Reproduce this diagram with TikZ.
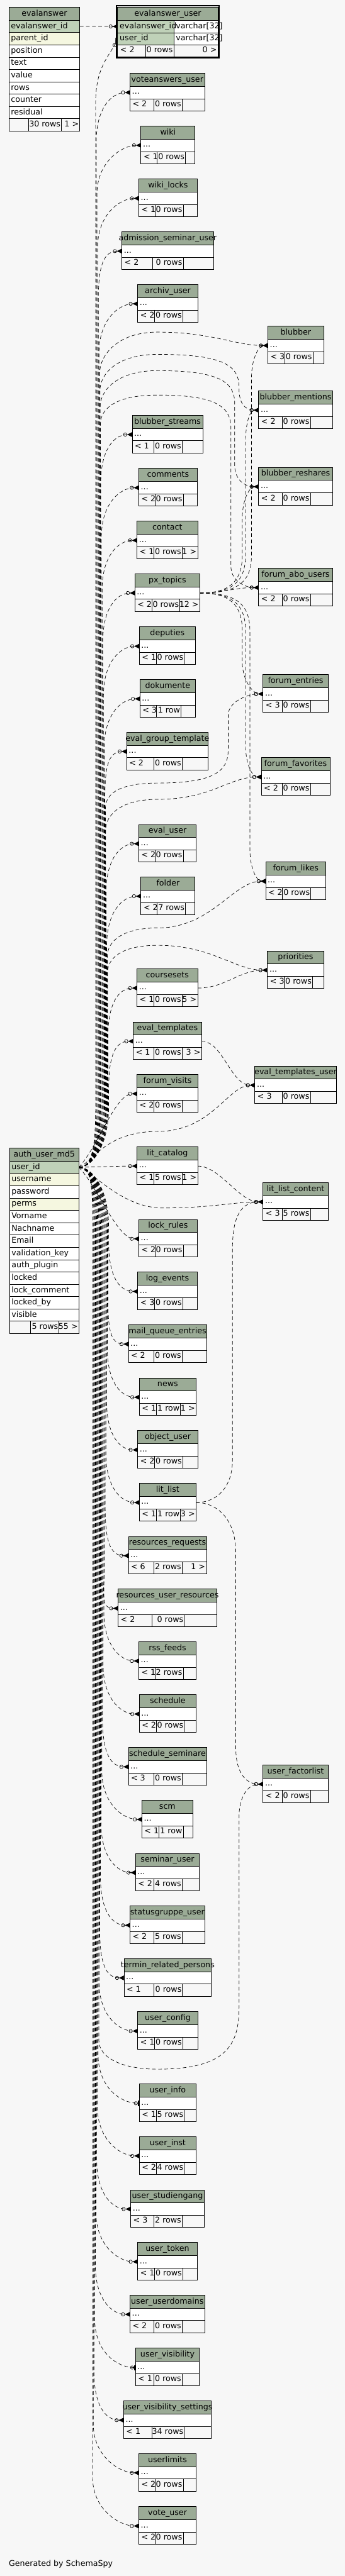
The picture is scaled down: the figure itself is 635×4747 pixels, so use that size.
\documentclass[tikz,border=0pt]{standalone}
\usepackage{fontspec}
\setmainfont{DejaVu Sans}
\usetikzlibrary{arrows.meta}
\definecolor{bgc}{HTML}{F7F7F7}
\definecolor{hdrc}{HTML}{9BAB96}
\definecolor{pkc}{HTML}{BFD1B8}
\definecolor{idxc}{HTML}{F5F7E0}
\newcommand\tf{\fontsize{11}{13}\selectfont}
\newlength\hw
\pgfdeclarelayer{bgl}\pgfdeclarelayer{edges}\pgfsetlayers{bgl,edges,main}
\tikzset{
 txt/.style={font=\tf, inner sep=0pt, text=black},
 tline/.style={draw=black, line width=0.75pt},
 rel/.style={draw=black, line width=0.6pt, dash pattern=on 5pt off 3.5pt,
   -{Circle[open,length=5.25pt,width=5.25pt,line width=0.6pt] Triangle[reversed,length=7pt,width=6.5pt]}},
 relone/.style={draw=black, line width=0.6pt, dash pattern=on 5pt off 3.5pt,
   -{Circle[open,length=5.25pt,width=5.25pt,line width=0.6pt] Rectangle[length=2pt,width=7pt]}},
}
% small table: name, x1, x2, ytop, title, d1, d2, footer1, footer2
\newcommand\stbl[9]{%
 \fill[hdrc] (#2,#4) rectangle (#3,{#4+24});
 \fill[white] (#2,{#4+24}) rectangle (#3,{#4+47});
 \draw[tline] (#2,#4) rectangle (#3,{#4+69.3});
 \draw[tline] (#2,{#4+24}) -- (#3,{#4+24}) (#2,{#4+47}) -- (#3,{#4+47})
   (#6,{#4+47}) -- (#6,{#4+69.3}) (#7,{#4+47}) -- (#7,{#4+69.3});
 \settowidth\hw{\tf #5}%
 \node[txt,anchor=base,xshift={0.055*\the\hw}] (#1) at ({(#2+#3)/2},{#4+16}) {#5};
 \node[txt,anchor=base west] (#1-row) at ({#2+3.5},{#4+38.8}) {...};
 \node[txt,anchor=base west] (#1-fa) at ({#2+4.5},{#4+61.2}) {#8};
 \node[txt,anchor=base east] (#1-fb) at ({#7-1.5},{#4+61.2}) {#9};
 \coordinate (#1-in) at (#2,{#4+35.5});
 \coordinate (#1-out) at (#3,{#4+35.5});
 \coordinate (#1-f3) at ({#3-2},{#4+61.2});
}
% edge from auth_user_md5 to a centre table: [style] name, x1, ytop
\newcommand\uedge[4][rel]{%
 \pgfmathsetmacro\edy{#4+35.5-2151}%
 \pgfmathtruncatemacro\isnear{abs(\edy)<210}%
 \pgfmathsetmacro\ety{#4+35.5}%
 \ifnum\isnear=1
  \draw[#1] (auth-out) .. controls (182,{2151+0.3*(\edy)}) and ({#3-40},\ety) .. (#2-in);
 \else
  \pgfmathsetmacro\sg{(\edy>0) ? 1 : -1}%
  \pgfmathsetmacro\elane{203-0.013*abs(\edy)}%
  \draw[#1] (auth-out) .. controls (170,2151) and (\elane,{2151+(\sg)*40}) .. (\elane,{2151+(\sg)*110})
    -- (\elane,{\ety-(\sg)*90}) .. controls (\elane,{\ety-(\sg)*30}) and ({#3-35},\ety) .. (#2-in);
 \fi}
% edge from auth_user_md5 to a right table: name, x1, ty, launch y, peak y, lane (0 = none)
\newcommand\redge[6]{%
 \pgfmathsetmacro\sg{(#4>2151) ? 1 : -1}%
 \pgfmathsetmacro\elane{203-0.013*abs(#4-2151)}%
 \pgfmathsetmacro\tgn{(#3>#5) ? 1 : -1}%
 \ifdim #6pt=0pt
  \draw[rel] (auth-out) .. controls (170,2151) and (\elane,{2151+(\sg)*40}) .. (\elane,{2151+(\sg)*110})
   -- (\elane,{#4-(\sg)*30}) .. controls (\elane,#4) and ({\elane+30},#5) .. (290,#5)
   .. controls (390,#5) and ({#2-60},#3) .. (#1-in);
 \else
  \draw[rel] (auth-out) .. controls (170,2151) and (\elane,{2151+(\sg)*40}) .. (\elane,{2151+(\sg)*110})
   -- (\elane,{#4-(\sg)*30}) .. controls (\elane,#4) and ({\elane+30},#5) .. (290,#5)
   .. controls ({#6-30},#5) and (#6,{#5+(\tgn)*20}) .. (#6,{#5+(\tgn)*60})
   -- (#6,{#3-(\tgn)*40}) .. controls (#6,{#3-(\tgn)*12}) and ({#2-25},#3) .. (#1-in);
 \fi}
% edge from px_topics: name, x1, ty, lane
\newcommand\pxedge[4]{%
 \pgfmathsetmacro\sg{(#3>1092.8) ? 1 : -1}%
 \draw[rel] (pxtopics-out) .. controls ({#4-25},1092.8) and (#4,{1092.8+(\sg)*20}) .. (#4,{1092.8+(\sg)*70})
   -- (#4,{#3-(\sg)*60}) .. controls (#4,{#3-(\sg)*20}) and ({#2-15},#3) .. (#1-in);}

\begin{document}
\begin{tikzpicture}[x=0.75pt,y=-0.75pt]
\useasboundingbox (0,0) rectangle (635,4747);
\begin{pgfonlayer}{bgl}
\fill[bgc] (0,0) rectangle (635,4747);
\end{pgfonlayer}

% ---------- evalanswer ----------
\fill[hdrc] (16.2,13.3) rectangle (147,37.3);
\settowidth\hw{\tf evalanswer}
\node[txt,anchor=base,xshift={0.055*\the\hw}] (eatitle) at (81.6,29.3) {evalanswer};
\foreach \tx/\cl [count=\i] in {evalanswer\_id/pkc, parent\_id/idxc, position/white, text/white, value/white, rows/white, counter/white, residual/white}{
  \pgfmathsetmacro\yy{37.3+(\i-1)*22.7}
  \fill[\cl] (16.2,\yy) rectangle (147,{\yy+22.7});
  \draw[tline] (16.2,\yy) -- (147,\yy);
  \node[txt,anchor=base west] (ea-r\i) at (19.9,{\yy+15}) {\tx};
}
\draw[tline] (16.2,13.3) rectangle (147,241.6);
\draw[tline] (16.2,218.9) -- (147,218.9) (52.6,218.9) -- (52.6,241.6) (112.6,218.9) -- (112.6,241.6);
\node[txt,anchor=base east] (ea-fb) at (111.6,233.2) {30 rows};
\node[txt,anchor=base east] (ea-fc) at (145.3,233.2) {1 >};
\coordinate (ea-out) at (147,48.7);

% ---------- evalanswer_user ----------
\draw[black,line width=1.5pt] (214.5,10.8) rectangle (402.9,106.6);
\fill[hdrc] (216.6,12.7) rectangle (401.2,37.3);
\fill[pkc] (216.6,37.3) rectangle (319.8,83);
\fill[white] (319.8,37.3) rectangle (401.2,83);
\draw[tline] (216.6,12.7) rectangle (401.2,105.3);
\draw[tline] (216.6,37.3) -- (401.2,37.3) (216.6,60.3) -- (401.2,60.3) (216.6,83) -- (401.2,83)
  (319.8,37.3) -- (319.8,105.3) (268,83) -- (268,105.3);
\settowidth\hw{\tf evalanswer\_user}
\node[txt,anchor=base,xshift={0.055*\the\hw}] (eau) at (308.9,29) {evalanswer\_user};
\node[txt,anchor=base west] (eau-r1) at (220.1,52.3) {evalanswer\_id};
\node[txt,anchor=base west] (eau-t1) at (323.6,52.3) {varchar[32]};
\node[txt,anchor=base west] (eau-r2) at (220.1,75.1) {user\_id};
\node[txt,anchor=base west] (eau-t2) at (323.6,75.1) {varchar[32]};
\node[txt,anchor=base west] (eau-fa) at (221,97.2) {< 2};
\node[txt,anchor=base east] (eau-fb) at (318.3,97.2) {0 rows};
\node[txt,anchor=base east] (eau-fc) at (399.4,97.2) {0 >};
\coordinate (eau-in1) at (216.6,48.8);
\coordinate (eau-in2) at (216.6,71.7);

% ---------- auth_user_md5 ----------
\fill[hdrc] (17.4,2115.7) rectangle (145.3,2139.7);
\settowidth\hw{\tf auth\_user\_md5}
\node[txt,anchor=base,xshift={0.055*\the\hw}] (autitle) at (81.4,2131.7) {auth\_user\_md5};
\foreach \tx/\cl [count=\i] in {user\_id/pkc, username/idxc, password/white, perms/idxc, Vorname/white, Nachname/white, Email/white, validation\_key/white, auth\_plugin/white, locked/white, lock\_comment/white, locked\_by/white, visible/white}{
  \pgfmathsetmacro\yy{2139.7+(\i-1)*22.7}
  \fill[\cl] (17.4,\yy) rectangle (145.3,{\yy+22.7});
  \draw[tline] (17.4,\yy) -- (145.3,\yy);
  \node[txt,anchor=base west] (au-r\i) at (20.9,{\yy+15}) {\tx};
}
\draw[tline] (17.4,2115.7) rectangle (145.3,2457.5);
\draw[tline] (17.4,2434.8) -- (145.3,2434.8) (55.9,2434.8) -- (55.9,2457.5) (108.5,2434.8) -- (108.5,2457.5);
\node[txt,anchor=base east] (au-fb) at (107.2,2449.3) {5 rows};
\node[txt,anchor=base east] (au-fc) at (143.6,2449.3) {55 >};
\coordinate (auth-out) at (145.3,2151);

% ---------- small tables ----------
\stbl{voteanswersuser}{239.3}{376.9}{135}{voteanswers\_user}{283.4}{335.2}{< 2}{0 rows}
\stbl{wiki}{259.5}{359.1}{232.3}{wiki}{289.5}{341.3}{< 1}{0 rows}
\stbl{wikilocks}{255.5}{363.2}{330}{wiki\_locks}{285.4}{337.2}{< 1}{0 rows}
\stbl{admission}{224.3}{393.1}{427.3}{admission\_seminar\_user}{281.4}{337.2}{< 2}{0 rows}
\stbl{archiv}{253.4}{364.4}{524.3}{archiv\_user}{284.6}{336.4}{< 2}{0 rows}
\stbl{blubber}{493.1}{596}{601.3}{blubber}{524.3}{576.1}{< 3}{0 rows}
\stbl{mentions}{476.1}{612.1}{720.3}{blubber\_mentions}{519.4}{571.3}{< 2}{0 rows}
\stbl{streams}{243.3}{373.3}{765.3}{blubber\_streams}{283.4}{335.2}{< 1}{0 rows}
\stbl{comments}{255.5}{363.2}{863.3}{comments}{285.4}{337.2}{< 2}{0 rows}
\stbl{reshares}{476.1}{612.1}{861.3}{blubber\_reshares}{519.4}{571.3}{< 2}{0 rows}
\stbl{contact}{252.2}{364}{960.3}{contact}{283.4}{335.2}{< 1}{0 rows}
\stbl{pxtopics}{248.2}{368}{1057.3}{px\_topics}{279.4}{331.2}{< 2}{0 rows}
\stbl{forumabo}{476.1}{612.1}{1047.3}{forum\_abo\_users}{519.4}{571.3}{< 2}{0 rows}
\stbl{deputies}{256.3}{359.9}{1155.3}{deputies}{287.4}{339.3}{< 1}{0 rows}
\stbl{dokumente}{257.5}{359.9}{1252.3}{dokumente}{288.3}{333.2}{< 3}{1 row}
\stbl{forumentries}{484.2}{604}{1243.3}{forum\_entries}{519.4}{571.3}{< 3}{0 rows}
\stbl{evalgroup}{233.2}{383}{1349.3}{eval\_group\_template}{283.4}{335.2}{< 2}{0 rows}
\stbl{forumfav}{481}{607.3}{1396.3}{forum\_favorites}{519.4}{571.3}{< 2}{0 rows}
\stbl{evaluser}{255.5}{361.1}{1519.3}{eval\_user}{285.4}{337.2}{< 2}{0 rows}
\stbl{forumlikes}{489}{600}{1588.3}{forum\_likes}{520.2}{572.1}{< 2}{0 rows}
\stbl{folder}{259.5}{359.1}{1616}{folder}{289.5}{341.3}{< 2}{7 rows}
\stbl{priorities}{492.3}{596}{1752.3}{priorities}{523.5}{575.3}{< 3}{0 rows}
\stbl{coursesets}{252.2}{364}{1785.3}{coursesets}{283.4}{335.2}{< 1}{0 rows}
\stbl{evaltemplates}{245.3}{371.3}{1883.3}{eval\_templates}{283.4}{335.2}{< 1}{0 rows}
\stbl{evaltpluser}{469.2}{619}{1964.3}{eval\_templates\_user}{519.4}{571.3}{< 3}{0 rows}
\stbl{forumvisits}{252.2}{364.4}{1980}{forum\_visits}{283.4}{335.2}{< 2}{0 rows}
\stbl{litcatalog}{252.2}{364}{2113.3}{lit\_catalog}{283.4}{335.2}{< 1}{5 rows}
\stbl{litlistcontent}{484.2}{604}{2179.3}{lit\_list\_content}{519.4}{571.3}{< 3}{5 rows}
\stbl{lockrules}{255.5}{363.2}{2247.3}{lock\_rules}{285.4}{337.2}{< 2}{0 rows}
\stbl{logevents}{253.4}{363.2}{2344.3}{log\_events}{284.6}{336.4}{< 3}{0 rows}
\stbl{mailqueue}{236.4}{380.2}{2441.3}{mail\_queue\_entries}{283.4}{335.2}{< 2}{0 rows}
\stbl{news}{256.3}{361.1}{2539.3}{news}{287.4}{332.4}{< 1}{1 row}
\stbl{objectuser}{253.4}{364.4}{2636.3}{object\_user}{284.6}{336.4}{< 2}{0 rows}
\stbl{litlist}{256.3}{361.1}{2733.3}{lit\_list}{287.4}{332.4}{< 1}{1 row}
\stbl{resreq}{236.4}{380.2}{2831.3}{resources\_requests}{283.4}{335.2}{< 6}{2 rows}
\stbl{resuser}{217.4}{399.2}{2928.3}{resources\_user\_resources}{279.4}{339.3}{< 2}{0 rows}
\stbl{rssfeeds}{255.5}{361.1}{3025.3}{rss\_feeds}{285.4}{337.2}{< 1}{2 rows}
\stbl{schedule}{256.3}{361.1}{3123}{schedule}{287.4}{339.3}{< 2}{0 rows}
\stbl{schedsem}{236.4}{380.2}{3220.3}{schedule\_seminare}{283.4}{335.2}{< 3}{0 rows}
\stbl{factorlist}{484.2}{604}{3252.3}{user\_factorlist}{519.4}{571.3}{< 2}{0 rows}
\stbl{scm}{261.1}{355.1}{3317.3}{scm}{292.3}{337.2}{< 1}{1 row}
\stbl{seminaruser}{249.4}{367.2}{3415.3}{seminar\_user}{283.4}{335.2}{< 2}{4 rows}
\stbl{statusgruppe}{239.3}{376.9}{3512.3}{statusgruppe\_user}{283.4}{335.2}{< 2}{5 rows}
\stbl{termin}{228.3}{389.1}{3609.3}{termin\_related\_persons}{283.4}{336}{< 1}{0 rows}
\stbl{userconfig}{253.4}{364.4}{3707.3}{user\_config}{284.6}{336.4}{< 1}{0 rows}
\stbl{userinfo}{256.3}{361.1}{3840.3}{user\_info}{287.4}{339.3}{< 1}{5 rows}
\stbl{userinst}{256.3}{361.1}{3937.3}{user\_inst}{287.4}{339.3}{< 2}{4 rows}
\stbl{studiengang}{240.5}{376.1}{4035.3}{user\_studiengang}{283.4}{335.2}{< 3}{2 rows}
\stbl{usertoken}{253.4}{363.2}{4132.3}{user\_token}{284.6}{336.4}{< 1}{0 rows}
\stbl{userdomains}{239.3}{376.9}{4229.3}{user\_userdomains}{283.4}{335.2}{< 2}{0 rows}
\stbl{uservis}{249.4}{367.2}{4327.3}{user\_visibility}{283.4}{335.2}{< 1}{0 rows}
\stbl{uservisset}{227.5}{389.1}{4424.3}{user\_visibility\_settings}{279.4}{339.3}{< 1}{34 rows}
\stbl{userlimits}{255.5}{361.1}{4521.3}{userlimits}{285.4}{337.2}{< 2}{0 rows}
\stbl{voteuser}{255.5}{361.1}{4619.3}{vote\_user}{285.4}{337.2}{< 2}{0 rows}

\node[txt,anchor=base east] (contact-fc) at (contact-f3) {1 >};
\node[txt,anchor=base east] (pxtopics-fc) at (pxtopics-f3) {12 >};
\node[txt,anchor=base east] (coursesets-fc) at (coursesets-f3) {5 >};
\node[txt,anchor=base east] (evaltemplates-fc) at (evaltemplates-f3) {3 >};
\node[txt,anchor=base east] (litcatalog-fc) at (litcatalog-f3) {1 >};
\node[txt,anchor=base east] (news-fc) at (news-f3) {1 >};
\node[txt,anchor=base east] (litlist-fc) at (litlist-f3) {3 >};
\node[txt,anchor=base east] (resreq-fc) at (resreq-f3) {1 >};

\node[txt,anchor=base west] (gen) at (16,4728.5) {Generated by SchemaSpy};

% ---------- connectors ----------
\begin{pgfonlayer}{edges}
\draw[rel] (ea-out) -- (eau-in1);
\draw[rel] (auth-out) .. controls (170,2151) and (176,2111) .. (176,2041) -- (176,190)
   .. controls (176,125) and (200,105) .. (eau-in2);
\foreach \nm/\xa/\ya in {voteanswersuser/239.3/135, wiki/259.5/232.3, wikilocks/255.5/330,
  admission/224.3/427.3, archiv/253.4/524.3, streams/243.3/765.3, comments/255.5/863.3,
  contact/252.2/960.3, pxtopics/248.2/1057.3, deputies/256.3/1155.3, dokumente/257.5/1252.3,
  evalgroup/233.2/1349.3, evaluser/255.5/1519.3, folder/259.5/1616, coursesets/252.2/1785.3,
  evaltemplates/245.3/1883.3, forumvisits/252.2/1980, litcatalog/252.2/2113.3,
  lockrules/255.5/2247.3, logevents/253.4/2344.3, mailqueue/236.4/2441.3, news/256.3/2539.3,
  objectuser/253.4/2636.3, litlist/256.3/2733.3, resreq/236.4/2831.3, resuser/217.4/2928.3,
  rssfeeds/255.5/3025.3, schedule/256.3/3123, schedsem/236.4/3220.3, scm/261.1/3317.3,
  seminaruser/249.4/3415.3, statusgruppe/239.3/3512.3, termin/228.3/3609.3,
  userconfig/253.4/3707.3, userinst/256.3/3937.3, studiengang/240.5/4035.3,
  usertoken/253.4/4132.3, userdomains/239.3/4229.3, uservisset/227.5/4424.3,
  userlimits/255.5/4521.3, voteuser/255.5/4619.3}{
  \uedge{\nm}{\xa}{\ya}
}
\uedge[relone]{userinfo}{256.3}{3840.3}
\uedge[relone]{uservis}{249.4}{4327.3}

\redge{blubber}{493.1}{636.8}{657}{612}{0}
\redge{mentions}{476.1}{755.8}{690}{653}{440}
\redge{reshares}{476.1}{896.8}{720}{683}{432}
\redge{forumabo}{476.1}{1082.8}{752}{728}{425}
\redge{forumentries}{484.2}{1278.8}{1460}{1443}{420}
\redge{forumfav}{481}{1431.8}{1500}{1473}{0}
\redge{forumlikes}{489}{1623.8}{1733}{1710}{0}
\redge{priorities}{492.3}{1787.8}{1763}{1742}{0}
\draw[rel] (auth-out) .. controls (172,2140) and (195,2085) .. (290,2085)
   .. controls (390,2085) and (420,1999.8) .. (evaltpluser-in);
\draw[rel] (auth-out) .. controls (175,2162) and (225,2226) .. (300,2226)
   .. controls (390,2226) and (430,2214.8) .. (litlistcontent-in);
\draw[rel] (auth-out) .. controls (170,2151) and (182,2191) .. (182,2261) -- (182,3760)
   .. controls (182,3792) and (225,3813) .. (290,3813) .. controls (415,3813) and (440,3770) .. (440,3700)
   -- (440,3350) .. controls (440,3305) and (460,3287.8) .. (factorlist-in);

\pxedge{blubber}{493.1}{636.8}{463}
\pxedge{mentions}{476.1}{755.8}{452}
\pxedge{reshares}{476.1}{896.8}{446}
\pxedge{forumentries}{484.2}{1278.8}{446}
\pxedge{forumfav}{481}{1431.8}{452}
\pxedge{forumlikes}{489}{1623.8}{460}
\draw[rel] (pxtopics-out) .. controls (410,1092.8) and (430,1082.8) .. (forumabo-in);

\draw[rel] (coursesets-out) .. controls (415,1820.8) and (440,1787.8) .. (priorities-in);
\draw[rel] (evaltemplates-out) .. controls (410,1918.8) and (425,1999.8) .. (evaltpluser-in);
\draw[rel] (litcatalog-out) .. controls (405,2148.8) and (440,2214.8) .. (litlistcontent-in);
\draw[rel] (litlist-out) .. controls (400,2768.8) and (428,2740) .. (428,2690) -- (428,2300)
   .. controls (428,2240) and (445,2214.8) .. (litlistcontent-in);
\draw[rel] (litlist-out) .. controls (400,2768.8) and (434,2800) .. (434,2860) -- (434,3220)
   .. controls (434,3270) and (455,3287.8) .. (factorlist-in);
\end{pgfonlayer}
\end{tikzpicture}
\end{document}
